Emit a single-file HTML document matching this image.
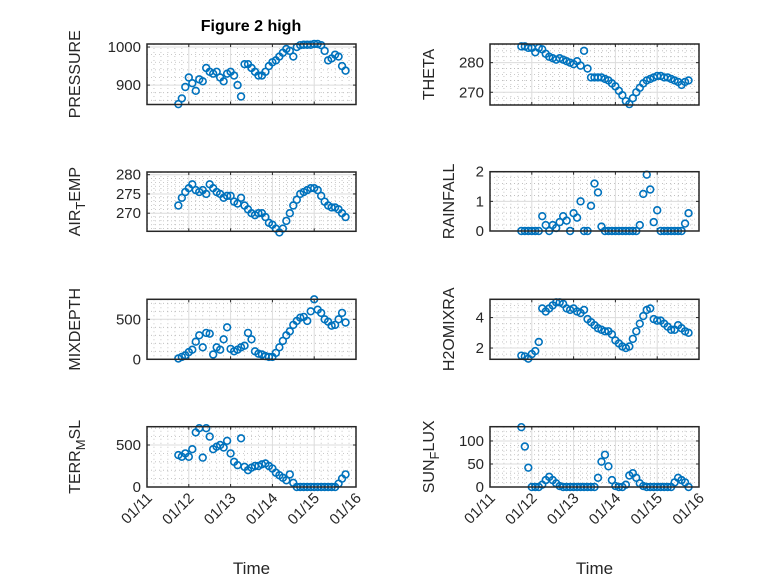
<!DOCTYPE html>
<html><head><meta charset="utf-8">
<style>
html,body{margin:0;padding:0;background:#fff;}
svg{display:block;font-family:"Liberation Sans","DejaVu Sans",sans-serif;}
</style></head>
<body>
<svg id="fig" width="778" height="583" viewBox="0 0 778 583" xmlns="http://www.w3.org/2000/svg">
<rect x="0" y="0" width="778" height="583" fill="#fff"/>
<text x="251" y="31" text-anchor="middle" font-size="16" font-weight="bold" fill="#000">Figure 2 high</text>
</svg>
<script>
// Time grid: 2-hourly samples starting 01/11 18:00 (day offset from 01/11 00:00)
const startDay = 0.75;
const stepDay = 1/12;
const xTickLabels = ["01/11","01/12","01/13","01/14","01/15","01/16"];

const pressure = [850,865,895,920,905,885,915,910,945,935,930,935,920,910,930,935,925,900,870,955,955,945,935,925,925,935,950,960,965,975,985,995,990,975,1000,1005,1006,1006,1006,1008,1008,1005,990,965,970,980,975,950,938];
const airTemp = [272,274,275.5,276.5,277.5,276,275.5,276,275,277.5,276.5,275.5,275,274,274.5,274.5,273,272.5,274,272,271,270,269.5,270,270,269,267.5,267,266,265,266,268,270,272,273.5,275,275.5,276,276.5,276.5,276,274.5,273,272,271.5,271.5,271,270,269];
const mixDepth = [10,30,50,90,120,220,300,150,330,320,60,150,120,250,400,130,100,120,150,170,330,250,100,70,60,40,30,30,80,150,230,300,350,430,480,520,530,480,600,750,620,580,500,470,420,430,500,580,460];
const terrMsl = [380,360,400,360,450,650,700,350,700,600,450,480,500,470,550,400,300,260,580,240,200,230,250,250,270,280,250,220,170,140,110,80,150,50,0,0,0,0,0,0,0,0,0,0,0,0,40,100,150];
const theta = [285.5,285.5,285,285,283.5,285,284.5,283,282,281.5,281,281.5,281,280.5,280,279.5,280.5,279,284,278,275,275,275,275,274.5,274,273,272,270.5,269,267,266,268,270,271.5,273,274,274.5,275,275.5,275.5,275,275,274.5,274,273.5,272.5,273.5,274];
const rainfall = [0,0,0,0,0,0,0.5,0.2,0,0.2,0.1,0.3,0.5,0.35,0,0.6,0.45,1.0,0,0,0.85,1.6,1.3,0.15,0,0,0,0,0,0,0,0,0,0,0.2,1.25,1.9,1.4,0.3,0.7,0,0,0,0,0,0,0,0.25,0.6];
const h2oMix = [1.5,1.45,1.3,1.6,1.8,2.4,4.6,4.4,4.6,4.8,5.0,5.0,4.9,4.6,4.5,4.6,4.4,4.3,4.5,3.9,3.7,3.5,3.3,3.2,3.1,3.1,2.9,2.5,2.3,2.1,2.0,2.1,2.6,3.1,3.6,4.1,4.5,4.6,3.9,3.8,3.8,3.6,3.4,3.2,3.2,3.5,3.3,3.1,3.0];
const sunFlux = [130,88,42,0,0,0,5,15,22,15,8,2,0,0,0,0,0,0,0,0,0,0,20,55,70,45,15,2,0,0,5,25,30,20,8,2,0,0,0,0,0,0,0,0,10,20,15,10,0];

const pressureTicks = [900,1000];
const airTempTicks = [270,275,280];
const mixDepthTicks = [0,500];
const terrTicks = [0,500];
const thetaTicks = [270,280];
const rainTicks = [0,1,2];
const h2oTicks = [2,4];
const sunTicks = [0,50,100];

const NS = "http://www.w3.org/2000/svg";
const svg = document.getElementById("fig");
function mk(tag, attrs, parent){
  const e = document.createElementNS(NS, tag);
  for (const k in attrs) e.setAttribute(k, attrs[k]);
  (parent||svg).appendChild(e);
  return e;
}

const panels = [
  {key:"pressure", data:pressure, ticks:pressureTicks, minorStep:20, ymin:849, ymax:1008, col:0, top:44, bot:104.5, label:["PRESSURE"], lx:80},
  {key:"theta", data:theta, ticks:thetaTicks, minorStep:2, ymin:265.7, ymax:286.3, col:1, top:44, bot:105, label:["THETA"], lx:434},
  {key:"air-temp", data:airTemp, ticks:airTempTicks, minorStep:1, ymin:265.3, ymax:280.7, col:0, top:172, bot:231.3, label:["AIR","T","EMP"], lx:80},
  {key:"rainfall", data:rainfall, ticks:rainTicks, minorStep:0.2, ymin:0, ymax:2, col:1, top:171.7, bot:231, label:["RAINFALL"], lx:454},
  {key:"mix-depth", data:mixDepth, ticks:mixDepthTicks, minorStep:100, ymin:0, ymax:750, col:0, top:299.3, bot:359.3, label:["MIXDEPTH"], lx:80},
  {key:"h2o-mix-ratio", data:h2oMix, ticks:h2oTicks, minorStep:0.4, ymin:1.26, ymax:5.2, col:1, top:299.3, bot:359.3, label:["H2OMIXRA"], lx:454},
  {key:"terr-msl", data:terrMsl, ticks:terrTicks, minorStep:100, ymin:0, ymax:718, col:0, top:426.7, bot:487, label:["TERR","M","SL"], lx:80},
  {key:"sun-flux", data:sunFlux, ticks:sunTicks, minorStep:10, ymin:0, ymax:131, col:1, top:426.7, bot:487, label:["SUN","F","LUX"], lx:434}
];
const colX = [[147,356],[490,699]];

panels.forEach(p => {
  const [x0,x1] = colX[p.col];
  const xs = d => x0 + (d/5)*(x1-x0);
  const ys = v => p.bot - (v-p.ymin)/(p.ymax-p.ymin)*(p.bot-p.top);
  const g = mk("g", {});
  
  
  for (let i=1;i<30;i++){ if(i%6===0) continue;
    const x = xs(i/6);
    mk("line",{x1:x,x2:x,y1:p.top,y2:p.bot,stroke:"#b8b8b8","stroke-width":0.8,"stroke-dasharray":"1 3"},g);
  }
  const mStart = Math.ceil(p.ymin/p.minorStep);
  for (let k=mStart; k*p.minorStep<=p.ymax; k++){
    const v = k*p.minorStep;
    if (p.ticks.some(t=>Math.abs(t-v)<1e-9)) continue;
    const y = ys(v);
    mk("line",{x1:x0,x2:x1,y1:y,y2:y,stroke:"#b8b8b8","stroke-width":0.8,"stroke-dasharray":"1 3"},g);
  }
  for (let i=1;i<5;i++){
    const x = xs(i);
    mk("line",{x1:x,x2:x,y1:p.top,y2:p.bot,stroke:"#dcdcdc","stroke-width":1},g);
  }
  p.ticks.forEach(t=>{
    const y = ys(t);
    mk("line",{x1:x0,x2:x1,y1:y,y2:y,stroke:"#dcdcdc","stroke-width":1},g);
    mk("line",{x1:x0,x2:x0+3,y1:y,y2:y,stroke:"#262626","stroke-width":1},g);
    mk("line",{x1:x1,x2:x1-3,y1:y,y2:y,stroke:"#262626","stroke-width":1},g);
    const tl = mk("text",{x:x0-6,y:y+5,"text-anchor":"end","font-size":15,fill:"#262626"},g);
    tl.textContent = t;
    
    
  });
  for (let i=0;i<=5;i++){
    const x = xs(i);
    mk("line",{x1:x,x2:x,y1:p.bot,y2:p.bot-3,stroke:"#262626","stroke-width":1},g);
    mk("line",{x1:x,x2:x,y1:p.top,y2:p.top+3,stroke:"#262626","stroke-width":1},g);
  }
  p.data.forEach((v,i)=>{
    const c = mk("circle",{cx:xs(startDay+i*stepDay),cy:ys(v),r:3.4,fill:"none",stroke:"#0072BD","stroke-width":1.6},g);
    
    
  });
  const box = mk("rect",{x:x0,y:p.top,width:x1-x0,height:p.bot-p.top,fill:"none",stroke:"#262626","stroke-width":1.5},g);
  
  
  const cy = (p.top+p.bot)/2;
  const yl = mk("text",{x:0,y:0,"text-anchor":"middle","font-size":16,fill:"#262626",transform:`translate(${p.lx},${cy}) rotate(-90)`},g);
  
  
  if (p.label.length===1){ yl.textContent = p.label[0]; }
  else {
    const a = mk("tspan",{},yl); a.textContent = p.label[0];
    const b = mk("tspan",{dy:5,"font-size":13},yl); b.textContent = p.label[1];
    const c = mk("tspan",{dy:-5},yl); c.textContent = p.label[2];
  }
  if (p.key==="terr-msl" || p.key==="sun-flux"){
    xTickLabels.forEach((lab,i)=>{
      const x = xs(i);
      const t = mk("text",{x:0,y:0,"text-anchor":"end","font-size":15,fill:"#262626",transform:`translate(${x+6},${p.bot+12}) rotate(-45)`},g);
      t.textContent = lab;
      
      
    });
    const xt = mk("text",{x:(x0+x1)/2,y:574,"text-anchor":"middle","font-size":17,fill:"#262626"},g);
    xt.textContent = "Time";
    
    
  }
});
</script>
</body></html>
